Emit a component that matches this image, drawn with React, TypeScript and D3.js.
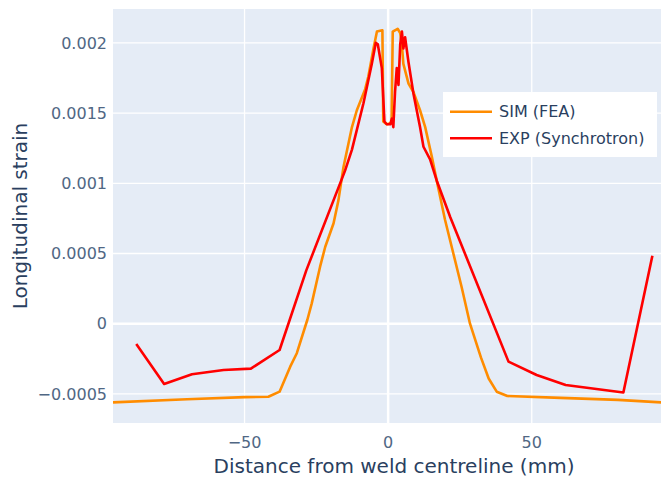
import React from "react";
import * as d3 from "d3";

const simX = [-95.8, -70, -50, -41.7, -37.8, -34.1, -31.8, -28.1, -26.6, -23.7, -21.9, -19.0, -17.3, -15.6, -12.6, -10.9, -8.0, -6.9, -5.1, -3.9, -2.0, -1.7, -0.5, 1.2, 1.6, 3.3, 4.2, 4.8, 5.3, 7.1, 8.8, 11.1, 12.9, 15.2, 16.9, 19.8, 22.7, 25.6, 28.5, 32.3, 35.0, 37.8, 41.5, 60, 80, 95.1];
const simY = [-0.00056, -0.000538, -0.000523, -0.00052, -0.000484, -0.000306, -0.00021, 0.00003, 0.000145, 0.000406, 0.000548, 0.000715, 0.00088, 0.00111, 0.0014, 0.00152, 0.00167, 0.00176, 0.00196, 0.00208, 0.00209, 0.00144, 0.00142, 0.00143, 0.00208, 0.0021, 0.00207, 0.00198, 0.00185, 0.00171, 0.00165, 0.00152, 0.0014, 0.00119, 0.00102, 0.00074, 0.0005, 0.00026, 0.0, -0.00024, -0.00039, -0.000484, -0.000515, -0.000528, -0.000542, -0.00056];

const expX = [-87.7, -78.0, -68.3, -57.3, -47.8, -37.8, -28.5, -15.0, -12.6, -8.6, -5.7, -4.3, -3.6, -2.2, -1.3, -0.5, 0.7, 1.3, 1.8, 2.4, 3.0, 3.6, 4.2, 4.8, 5.3, 5.9, 7.1, 8.8, 11.1, 12.3, 14.6, 16.9, 21.6, 41.9, 51.7, 61.8, 81.9, 92.0];
const expY = [-0.000145, -0.000429, -0.00036, -0.00033, -0.00032, -0.000187, 0.00038, 0.00109, 0.00124, 0.00157, 0.00185, 0.002, 0.00199, 0.00182, 0.00144, 0.00142, 0.00142, 0.00146, 0.0014, 0.00165, 0.00182, 0.0017, 0.00199, 0.00208, 0.00196, 0.00204, 0.00186, 0.00164, 0.0014, 0.00126, 0.00117, 0.00102, 0.00076, -0.00027, -0.000365, -0.000437, -0.00049, 0.000484];

const xTicks = [-50, 0, 50];
const yTicks = [-0.0005, 0, 0.0005, 0.001, 0.0015, 0.002];
const yTickLabels = ["\u22120.0005", "0", "0.0005", "0.001", "0.0015", "0.002"];
const xTickLabels = ["\u221250", "0", "50"];
const seriesNames = ["SIM (FEA)", "EXP (Synchrotron)"];
const seriesColors = ["#ff8c00", "#ff0000"];

const W = 661, H = 479;
const L = 113, R = 661, T = 9, B = 423;

export default function App() {
  const x = d3.scaleLinear().domain([-95.8, 95.0]).range([L, R]);
  const y = d3.scaleLinear().domain([-0.000707, 0.002241]).range([B, T]);
  const line = d3.line<[number, number]>().x(d => x(d[0])).y(d => y(d[1]));
  const simPts = simX.map((v, i) => [v, simY[i]] as [number, number]);
  const expPts = expX.map((v, i) => [v, expY[i]] as [number, number]);
  const font = "'DejaVu Sans', Verdana, sans-serif";
  return (
    <svg width={W} height={H} style={{ position: "absolute", left: 0, top: 0, background: "#fff" }} fontFamily={font}>
      <defs>
        <clipPath id="clip"><rect x={L} y={T} width={R - L} height={B - T} /></clipPath>
      </defs>
      <rect x={L} y={T} width={R - L} height={B - T} fill="#e5ecf6" />
      {xTicks.map(t => (
        <line key={"gx" + t} x1={x(t)} x2={x(t)} y1={T} y2={B} stroke="#fff" strokeWidth={t === 0 ? 2.5 : 1.3} />
      ))}
      {yTicks.map(t => (
        <line key={"gy" + t} x1={L} x2={R} y1={y(t)} y2={y(t)} stroke="#fff" strokeWidth={t === 0 ? 2.5 : 1.3} />
      ))}
      <g clipPath="url(#clip)" fill="none" strokeWidth={2.6} strokeLinejoin="round">
        <path d={line(simPts) || ""} stroke={seriesColors[0]} />
        <path d={line(expPts) || ""} stroke={seriesColors[1]} />
      </g>
      {yTicks.map((t, i) => (
        <text key={"ty" + t} x={107} y={y(t)} dy="0.36em" textAnchor="end" fontSize={16} fill="#506784">{yTickLabels[i]}</text>
      ))}
      {xTicks.map((t, i) => (
        <text key={"tx" + t} x={x(t)} y={448} textAnchor="middle" fontSize={16} fill="#506784">{xTickLabels[i]}</text>
      ))}
      <text x={394} y={473} textAnchor="middle" fontSize={20} fill="#2a3f5f">Distance from weld centreline (mm)</text>
      <text transform={`translate(26.5,${(T + B) / 2}) rotate(-90)`} textAnchor="middle" fontSize={20} fill="#2a3f5f">Longitudinal strain</text>
      <rect x={443} y={92} width={214} height={65} fill="#fff" />
      {seriesNames.map((n, i) => (
        <g key={n} transform={`translate(0,${111.7 + i * 26.6})`}>
          <line x1={450} x2={492} y1={0} y2={0} stroke={seriesColors[i]} strokeWidth={2.6} />
          <text x={499} y={0} dy="0.36em" fontSize={16} fill="#2a3f5f">{n}</text>
        </g>
      ))}
    </svg>
  );
}
